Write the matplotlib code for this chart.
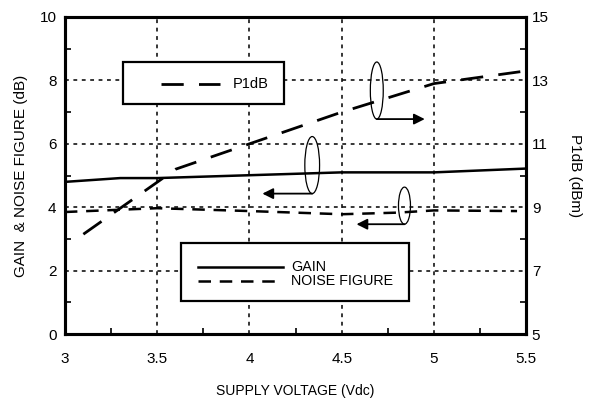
import matplotlib
matplotlib.use("Agg")
import matplotlib.pyplot as plt
from matplotlib.patches import Ellipse, Rectangle
from matplotlib.lines import Line2D

plt.rcParams['font.family'] = ['Liberation Sans', 'DejaVu Sans']

# data
gain_v = [3.0, 3.3, 3.5, 4.5, 5.0, 5.5]
gain_db = [4.8, 4.92, 4.92, 5.1, 5.1, 5.22]

nf_v = [3.0, 3.5, 4.0, 4.5, 4.8, 5.0, 5.45]
nf_db = [3.85, 3.97, 3.88, 3.78, 3.83, 3.9, 3.88]

p1db_v = [3.1, 3.6, 4.0, 4.5, 5.0, 5.5]
p1db_dbm = [8.15, 10.2, 11.0, 12.0, 12.9, 13.3]

x_ticks = [3, 3.5, 4, 4.5, 5, 5.5]
x_labels = ['3', '3.5', '4', '4.5', '5', '5.5']
left_ticks = [0, 2, 4, 6, 8, 10]
right_ticks = [5, 7, 9, 11, 13, 15]

fig = plt.figure(figsize=(5.9, 4.04), dpi=100)
ax = fig.add_axes([0.110, 0.173, 0.782, 0.785])
ax2 = ax.twinx()

ax.plot(gain_v, gain_db, color='black', lw=1.8, solid_capstyle='butt')
ax.plot(nf_v, nf_db, color='black', lw=1.8, ls=(0, (5, 3.5)))
ax2.plot(p1db_v, p1db_dbm, color='black', lw=2.0, ls=(0, (8, 5.5)))

ax.set_xlim(3, 5.5)
ax.set_ylim(0, 10)
ax2.set_ylim(5, 15)

ax.set_xticks(x_ticks)
ax.set_xticklabels(x_labels)
ax.set_xticks([3.25, 3.75, 4.25, 4.75, 5.25], minor=True)
ax.set_yticks(left_ticks)
ax.set_yticks([1, 3, 5, 7, 9], minor=True)
ax2.set_yticks(right_ticks)
ax2.set_yticks([6, 8, 10, 12, 14], minor=True)

ax.grid(True, which='major', color='black', lw=1.1, ls=(0, (2.5, 3)))
ax.tick_params(which='both', direction='in', labelsize=11, top=False)
ax.tick_params(which='major', length=0)
ax.tick_params(which='minor', length=4, width=1.2)
ax.tick_params(axis='x', pad=13)
ax.tick_params(axis='y', pad=6)
ax2.tick_params(which='both', direction='in', labelsize=11)
ax2.tick_params(which='major', length=0, pad=4)
ax2.tick_params(which='minor', length=4, width=1.2)

for a in (ax, ax2):
    for s in a.spines.values():
        s.set_linewidth(2.2)

ax.set_xlabel('SUPPLY VOLTAGE (Vdc)', fontsize=10, labelpad=13)
ax.set_ylabel('GAIN  & NOISE FIGURE (dB)', fontsize=11, labelpad=8)
ax2.set_ylabel('P1dB (dBm)', fontsize=11, rotation=-90, labelpad=24)

# curve markers: ellipse + arrow pointing to the relevant axis
def marker(cx, cy, w, h, x_end):
    ax.add_patch(Ellipse((cx, cy), w, h, fill=False, lw=0.9, color='black'))
    ax.annotate('', xy=(x_end, cy - h / 2), xytext=(cx, cy - h / 2),
                arrowprops=dict(arrowstyle='-|>', color='black', lw=1.3,
                                mutation_scale=16, shrinkA=0, shrinkB=0))

marker(4.34, 5.33, 0.08, 1.8, 4.07)
marker(4.69, 7.68, 0.07, 1.8, 4.95)
marker(4.84, 4.05, 0.065, 1.17, 4.58)

# legend boxes drawn by hand, square corners like the original
tr = ax.transAxes
ax.add_patch(Rectangle((0.126, 0.726), 0.349, 0.132, transform=tr, fill=True,
                       fc='white', ec='black', lw=1.6, zorder=5))
ax.add_line(Line2D([0.208, 0.336], [0.789, 0.789], transform=tr, color='black',
                   lw=2.0, ls=(0, (8, 5.5)), zorder=6))
ax.text(0.364, 0.789, 'P1dB', transform=tr, fontsize=10.5, va='center', zorder=6)

ax.add_patch(Rectangle((0.252, 0.104), 0.494, 0.183, transform=tr, fill=True,
                       fc='white', ec='black', lw=1.6, zorder=5))
ax.add_line(Line2D([0.289, 0.473], [0.211, 0.211], transform=tr, color='black',
                   lw=1.8, zorder=6))
ax.add_line(Line2D([0.289, 0.473], [0.167, 0.167], transform=tr, color='black',
                   lw=1.8, ls=(0, (5, 3.5)), zorder=6))
ax.text(0.49, 0.211, 'GAIN', transform=tr, fontsize=10.3, va='center', zorder=6)
ax.text(0.49, 0.167, 'NOISE FIGURE', transform=tr, fontsize=10.3, va='center', zorder=6)

fig.savefig('out.png', dpi=100)
